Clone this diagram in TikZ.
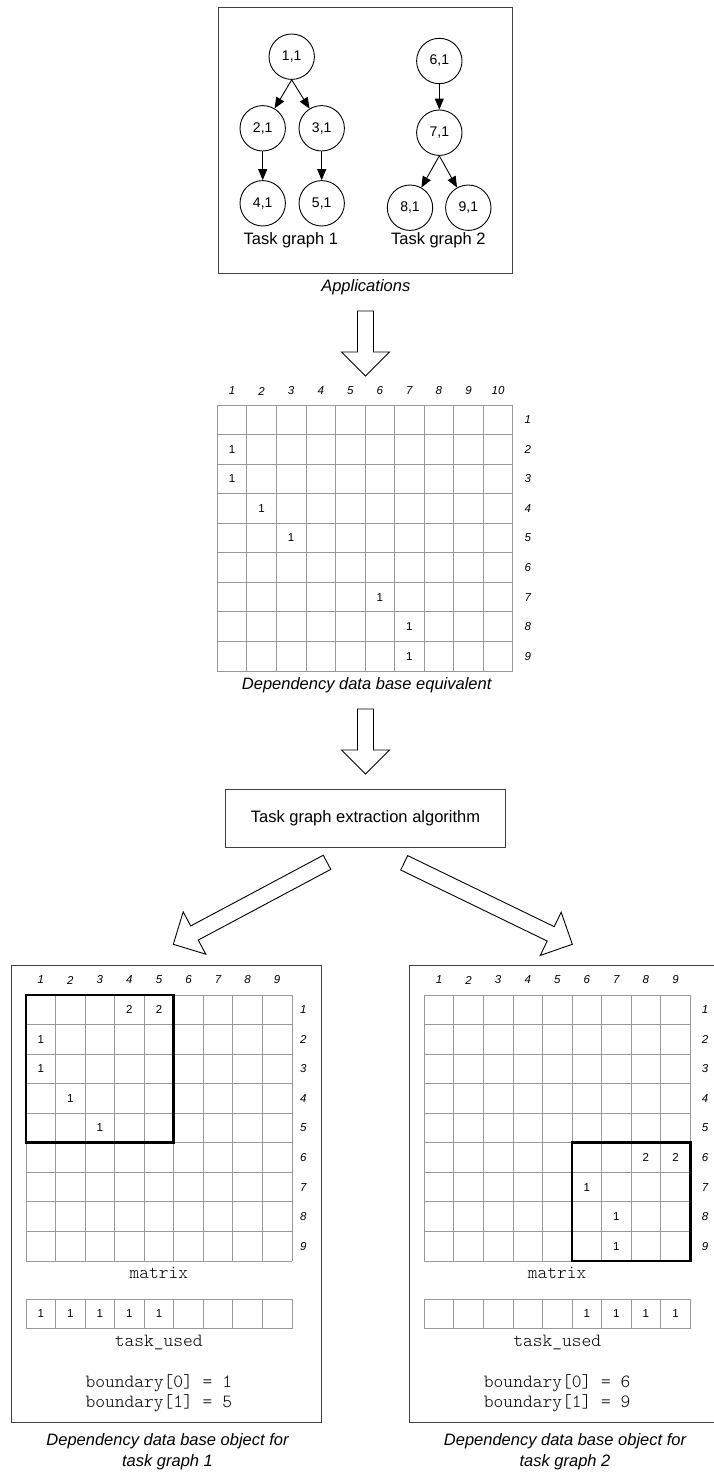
\documentclass[tikz,border=0pt]{standalone}
\usepackage{fontspec}
\setmainfont{Liberation Sans}
\newfontfamily\codefont{Latin Modern Mono Light}
\usetikzlibrary{arrows.meta,calc}

\newcommand\fsz[1]{\fontsize{#1}{#1}\selectfont}
\newcommand\cellw{29.55}

% hollow block arrow from tail #1 to tip #2
\newcommand\hollowarrow[2]{%
  \coordinate (#1-base) at ($(#2)!24pt!(#1)$);
  \draw[blockarrow] ($(#1)!8pt!90:(#2)$) -- ($(#1-base)!8pt!90:(#2)$)
    -- ($(#1-base)!24pt!90:(#2)$) -- (#2) -- ($(#1-base)!24pt!-90:(#2)$)
    -- ($(#1-base)!8pt!-90:(#2)$) -- ($(#1)!8pt!-90:(#2)$) -- cycle;
}
% grid of cells: x0, y0, columns, rows
\newcommand\cellgrid[4]{%
  \foreach \i in {0,...,#3}
    \draw[gridline] ({#1+\i*\cellw},#2) -- ({#1+\i*\cellw},{#2+#4*\cellw});
  \foreach \j in {0,...,#4}
    \draw[gridline] (#1,{#2+\j*\cellw}) -- ({#1+#3*\cellw},{#2+\j*\cellw});
}
% cell values: prefix, x0, y0, list of row/col/value
\newcommand\cellentries[4]{%
  \foreach \r/\c/\v in {#4}
    \node[cellnum] (#1-\r-\c) at ({#2+(\c-0.5)*\cellw},{#3+(\r-0.5)*\cellw}) {\v};
}
% column indices: prefix, x0, y, count
\newcommand\colindex[4]{%
  \foreach \c in {1,...,#4}
    \node[idx] (#1-c\c) at ({#2+(\c-0.5)*\cellw},#3) {\c};
}
% row indices: prefix, x, y0, count
\newcommand\rowindex[4]{%
  \foreach \r in {1,...,#4}
    \node[idx] (#1-r\r) at (#2,{#3+(\r-0.5)*\cellw}) {\r};
}

\begin{document}
\begin{tikzpicture}[x=1pt,y=-1pt,
  tasknode/.style={circle,draw=black,line width=0.9pt,minimum size=45.4pt,inner sep=0pt,font=\fsz{14}},
  dep/.style={-{Triangle[length=11pt,width=9pt]},line width=0.9pt},
  frame/.style={draw=black!75,line width=1pt},
  gridline/.style={draw=black!40,line width=0.9pt},
  bold/.style={draw=black,line width=2.6pt},
  blockarrow/.style={draw=black,fill=white,line width=0.9pt,line join=miter},
  algbox/.style={draw=black!75,line width=1pt,minimum width=279.6pt,minimum height=58.3pt,inner sep=0pt,font=\fsz{16.5}},
  cellnum/.style={inner sep=0pt,font=\fsz{11.5}},
  idx/.style={inner sep=0pt,font=\fsz{11.5}\itshape},
  label/.style={inner sep=0pt,font=\fsz{16.5}},
  caption/.style={inner sep=0pt,align=center,font=\fontsize{16.5}{20.6}\selectfont\itshape},
  code/.style={inner sep=0pt,align=center,font=\codefont\fontsize{18.6}{20}\selectfont},
]
\useasboundingbox (0,0) rectangle (714,1472);
\fill[white] (0,0) rectangle (714,1472);

% ---------- applications ----------
\draw[frame] (218.3,7.3) rectangle (512.7,273.3);
\node[tasknode] (t11) at (291.7,56.7) {1,1};
\node[tasknode] (t21) at (262.7,128.3) {2,1};
\node[tasknode] (t31) at (321.7,128.3) {3,1};
\node[tasknode] (t41) at (262.7,203.3) {4,1};
\node[tasknode] (t51) at (321.7,203.3) {5,1};
\node[tasknode] (t61) at (439.3,61) {6,1};
\node[tasknode] (t71) at (439.3,132.7) {7,1};
\node[tasknode] (t81) at (410,207.7) {8,1};
\node[tasknode] (t91) at (468.3,207.7) {9,1};
\draw[dep] (t11.south) -- (t21);
\draw[dep] (t11.south) -- (t31);
\draw[dep] (t21) -- (t41);
\draw[dep] (t31) -- (t51);
\draw[dep] (t61) -- (t71);
\draw[dep] (t71.south) -- (t81);
\draw[dep] (t71.south) -- (t91);
\node[label] (tg1) at (290.8,240.7) {Task graph 1};
\node[label] (tg2) at (438.3,240.7) {Task graph 2};
\node[caption] (apps) at (365.8,287.3) {Applications};

\coordinate (a1) at (365.5,311);
\coordinate (a1tip) at (365.5,376);
\hollowarrow{a1}{a1tip}

% ---------- dependency data base ----------
\cellgrid{217.3}{405}{10}{9}
\colindex{db}{217.3}{391}{10}
\rowindex{db}{527.7}{405}{9}
\cellentries{db}{217.3}{405}{2/1/1,3/1/1,4/2/1,5/3/1,7/6/1,8/7/1,9/7/1}
\node[caption] (dbcap) at (366.7,685) {Dependency data base equivalent};

\coordinate (a2) at (365.5,709);
\coordinate (a2tip) at (365.5,774);
\hollowarrow{a2}{a2tip}

\node[algbox] (alg) at (365.5,818.2) {Task graph extraction algorithm};

\coordinate (a3) at (327,862.3);
\coordinate (a3tip) at (173.3,944.3);
\hollowarrow{a3}{a3tip}
\coordinate (a4) at (404.2,862.8);
\coordinate (a4tip) at (572.3,944.3);
\hollowarrow{a4}{a4tip}

% ---------- object for task graph 1 ----------
\draw[frame] (11.7,965.7) rectangle (321,1422.3);
\cellgrid{26}{995}{9}{9}
\colindex{ga}{26}{980}{9}
\rowindex{ga}{303.3}{995}{9}
\cellentries{ga}{26}{995}{1/4/2,1/5/2,2/1/1,3/1/1,4/2/1,5/3/1}
\draw[bold] (26,995) rectangle ({26+5*\cellw},{995+5*\cellw});
\node[code] (ga-mat) at (158.8,1272.7) {matrix};
\cellgrid{26}{1299}{9}{1}
\cellentries{gau}{26}{1299}{1/1/1,1/2/1,1/3/1,1/4/1,1/5/1}
\node[code] (ga-used) at (158.8,1342.3) {task\_used};
\node[code] (ga-bnd) at (158.8,1393.3) {boundary[0] = 1\\boundary[1] = 5};
\node[caption] (ga-cap) at (167.5,1452) {Dependency data base object for\\task graph 1};

% ---------- object for task graph 2 ----------
\draw[frame] (409.3,965.7) rectangle (718.6,1422.3);
\cellgrid{424.3}{995}{9}{9}
\colindex{gb}{424.3}{980}{9}
\rowindex{gb}{705}{995}{9}
\cellentries{gb}{424.3}{995}{6/8/2,6/9/2,7/6/1,8/7/1,9/7/1}
\draw[bold] ({424.3+5*\cellw},{995+5*\cellw}) rectangle ({424.3+9*\cellw},{995+9*\cellw});
\node[code] (gb-mat) at (557.2,1272.7) {matrix};
\cellgrid{424.3}{1299}{9}{1}
\cellentries{gbu}{424.3}{1299}{1/6/1,1/7/1,1/8/1,1/9/1}
\node[code] (gb-used) at (557.2,1342.3) {task\_used};
\node[code] (gb-bnd) at (557.2,1393.3) {boundary[0] = 6\\boundary[1] = 9};
\node[caption] (gb-cap) at (565,1452) {Dependency data base object for\\task graph 2};
\end{tikzpicture}
\end{document}
